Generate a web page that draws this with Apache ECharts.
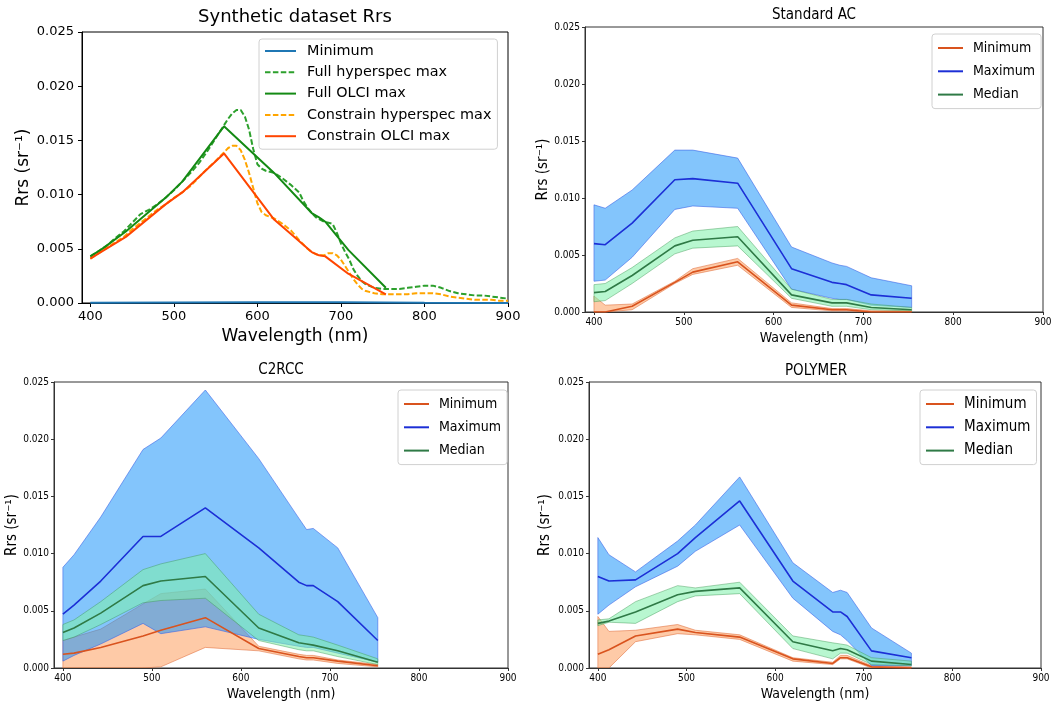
<!DOCTYPE html>
<html><head><meta charset="utf-8">
<script src="https://cdn.jsdelivr.net/npm/echarts@6.0.0/dist/echarts.min.js"></script>
<style>html,body{margin:0;padding:0;background:#fff}#c{width:1056px;height:709px}</style>
</head><body><div id="c"></div>
<script>
// ---------- data ----------
const olciWl = [400, 412.5, 442.5, 490, 510, 560, 620, 665, 673.75, 681.25, 708.75, 753.75];
const xTicks = [400, 500, 600, 700, 800, 900];
const yTicks = [0, 0.005, 0.010, 0.015, 0.020, 0.025];

// Synthetic dataset
const synMinWl = [400, 500, 600, 700, 800, 900];
const synMin = [0.00002, 0.00004, 0.00006, 0.00006, 0.00002, 0.00001];
const synFullOlci = [0.0043, 0.0049, 0.0066, 0.0097, 0.0112, 0.0163, 0.0120, 0.0083, 0.0079, 0.0075, 0.0049, 0.0014];
const synConOlci = [0.0041, 0.0047, 0.0061, 0.0091, 0.0102, 0.0138, 0.0077, 0.0047, 0.0044, 0.0043, 0.0027, 0.0008];
const hyperWl = [400, 410, 420, 430, 440, 450, 460, 470, 480, 490, 500, 510, 520, 530, 540, 550, 560, 565, 570, 575, 580, 585, 590, 595, 600, 605, 610, 620, 630, 640, 650, 655, 660, 665, 670, 675, 680, 685, 690, 695, 700, 705, 710, 715, 720, 725, 730, 740, 750, 760, 770, 780, 790, 800, 810, 820, 830, 840, 850, 860, 870, 880, 890, 900];
const synFullHyper = [0.0043, 0.0048, 0.0053, 0.0060, 0.0066, 0.0074, 0.0082, 0.0086, 0.0091, 0.0097, 0.0104, 0.0112, 0.0120, 0.0129, 0.0140, 0.0152, 0.0164, 0.0170, 0.0175, 0.0178, 0.0178, 0.0172, 0.0160, 0.0142, 0.0128, 0.0124, 0.0122, 0.0120, 0.0115, 0.0109, 0.0102, 0.0094, 0.0088, 0.0083, 0.0079, 0.0077, 0.0075, 0.0074, 0.0073, 0.0065, 0.0055, 0.0047, 0.0040, 0.0031, 0.0025, 0.0020, 0.0017, 0.0014, 0.0013, 0.0013, 0.0013, 0.0014, 0.0015, 0.0016, 0.0016, 0.0014, 0.0011, 0.0009, 0.0008, 0.0007, 0.0007, 0.0006, 0.0005, 0.0004];
const synConHyper = [0.0041, 0.0046, 0.0051, 0.0056, 0.0061, 0.0068, 0.0074, 0.0080, 0.0086, 0.0091, 0.0097, 0.0102, 0.0108, 0.0116, 0.0124, 0.0131, 0.0139, 0.0143, 0.0145, 0.0145, 0.0141, 0.0132, 0.0120, 0.0106, 0.0092, 0.0084, 0.0081, 0.0078, 0.0073, 0.0067, 0.0058, 0.0054, 0.0050, 0.0047, 0.0045, 0.0044, 0.0044, 0.0046, 0.0046, 0.0044, 0.0040, 0.0034, 0.0028, 0.0022, 0.0017, 0.0013, 0.0011, 0.0009, 0.0008, 0.0008, 0.0008, 0.0008, 0.0009, 0.0009, 0.0009, 0.0008, 0.0006, 0.0005, 0.0004, 0.0003, 0.0003, 0.0003, 0.0002, 0.0002];

// Standard AC
const sacMax   = [0.0060, 0.0059, 0.0078, 0.0116, 0.0117, 0.0113, 0.0038, 0.0026, 0.0025, 0.0024, 0.0015, 0.0012];
const sacMaxHi = [0.0094, 0.0091, 0.0107, 0.0142, 0.0142, 0.0135, 0.0057, 0.0043, 0.0041, 0.0040, 0.0030, 0.0023];
const sacMaxLo = [0.0027, 0.0028, 0.0048, 0.0090, 0.0093, 0.0091, 0.0020, 0.0012, 0.0011, 0.0011, 0.0006, 0.0004];
const sacMed   = [0.0017, 0.0018, 0.0032, 0.0058, 0.0063, 0.0066, 0.0015, 0.0008, 0.0008, 0.0008, 0.0004, 0.0002];
const sacMedHi = [0.0024, 0.0025, 0.0039, 0.0065, 0.0071, 0.0075, 0.0020, 0.0011, 0.0011, 0.0011, 0.0007, 0.0004];
const sacMedLo = [0.0009, 0.0010, 0.0025, 0.0051, 0.0056, 0.0058, 0.0012, 0.0005, 0.0005, 0.0005, 0.0002, 0.0001];
const sacMin   = [0.0000, 0.0000, 0.0005, 0.0026, 0.0035, 0.0044, 0.0006, 0.0002, 0.0002, 0.0002, 0.0000, 0.0000];
const sacMinHi = [0.0014, 0.0006, 0.0007, 0.0027, 0.0038, 0.0047, 0.0008, 0.0003, 0.0003, 0.0003, 0.0001, 0.0001];
const sacMinLo = [0.0000, 0.0000, 0.0002, 0.0025, 0.0033, 0.0041, 0.0004, 0.0001, 0.0001, 0.0001, 0.0000, 0.0000];

// C2RCC
const c2Max   = [0.0047, 0.0055, 0.0076, 0.0115, 0.0115, 0.0140, 0.0105, 0.0075, 0.0072, 0.0072, 0.0058, 0.0024];
const c2MaxHi = [0.0088, 0.0099, 0.0132, 0.0191, 0.0201, 0.0243, 0.0183, 0.0131, 0.0121, 0.0122, 0.0105, 0.0044];
const c2MaxLo = [0.0006, 0.0011, 0.0021, 0.0039, 0.0030, 0.0036, 0.0025, 0.0019, 0.0018, 0.0018, 0.0013, 0.0005];
const c2Med   = [0.0031, 0.0035, 0.0048, 0.0072, 0.0076, 0.0080, 0.0035, 0.0022, 0.0021, 0.0020, 0.0015, 0.0005];
const c2MedHi = [0.0038, 0.0042, 0.0058, 0.0086, 0.0091, 0.0100, 0.0047, 0.0029, 0.0028, 0.0027, 0.0020, 0.0008];
const c2MedLo = [0.0024, 0.0027, 0.0038, 0.0057, 0.0059, 0.0061, 0.0024, 0.0016, 0.0015, 0.0015, 0.0010, 0.0003];
const c2Min   = [0.0012, 0.0013, 0.0018, 0.0028, 0.0033, 0.0044, 0.0017, 0.0010, 0.0009, 0.0009, 0.0006, 0.0002];
const c2MinHi = [0.0024, 0.0027, 0.0034, 0.0056, 0.0065, 0.0069, 0.0019, 0.0012, 0.0011, 0.0011, 0.0007, 0.0003];
const c2MinLo = [0.0000, 0.0000, 0.0000, 0.0000, 0.0001, 0.0018, 0.0015, 0.0008, 0.0007, 0.0007, 0.0004, 0.0001];

// POLYMER
const poMax   = [0.0080, 0.0076, 0.0077, 0.0100, 0.0114, 0.0146, 0.0076, 0.0049, 0.0049, 0.0045, 0.0015, 0.0009];
const poMaxHi = [0.0114, 0.0099, 0.0084, 0.0111, 0.0125, 0.0167, 0.0092, 0.0066, 0.0068, 0.0066, 0.0035, 0.0013];
const poMaxLo = [0.0047, 0.0055, 0.0071, 0.0089, 0.0102, 0.0125, 0.0061, 0.0032, 0.0029, 0.0024, 0.0002, 0.0002];
const poMed   = [0.0039, 0.0041, 0.0049, 0.0064, 0.0067, 0.0070, 0.0023, 0.0015, 0.0017, 0.0016, 0.0006, 0.0003];
const poMedHi = [0.0042, 0.0043, 0.0058, 0.0072, 0.0070, 0.0075, 0.0028, 0.0022, 0.0021, 0.0020, 0.0009, 0.0006];
const poMedLo = [0.0037, 0.0040, 0.0039, 0.0058, 0.0063, 0.0065, 0.0017, 0.0008, 0.0013, 0.0013, 0.0003, 0.0002];
const poMin   = [0.0012, 0.0016, 0.0028, 0.0034, 0.0031, 0.0027, 0.0008, 0.0004, 0.0009, 0.0009, 0.0001, 0.0000];
const poMinHi = [0.0045, 0.0032, 0.0033, 0.0038, 0.0033, 0.0029, 0.0009, 0.0005, 0.0011, 0.0011, 0.0002, 0.0001];
const poMinLo = [0.0000, 0.0000, 0.0023, 0.0030, 0.0029, 0.0025, 0.0006, 0.0003, 0.0008, 0.0008, 0.0000, 0.0000];

// ---------- chart ----------
const FM = "'DejaVu Sans', sans-serif";
const FC = "'DejaVu Sans Condensed', 'Liberation Sans Narrow', 'DejaVu Sans', sans-serif";
const zip = (xs, ys) => xs.map((x, i) => [x, ys[i]]);

const grids = [
  {left: 82, top: 32, width: 426, height: 271},
  {left: 585, top: 27, width: 458, height: 285},
  {left: 54, top: 382, width: 454, height: 286},
  {left: 589, top: 382, width: 452, height: 286}
];
const axisCol = ['#000', '#333', '#333', '#333'];

const xAxes = grids.map((g, i) => ({
  type: 'value', gridIndex: i, min: 390, max: 900,
  name: 'Wavelength (nm)', nameLocation: 'middle',
  nameGap: i === 0 ? 25 : 19,
  nameTextStyle: {fontFamily: i === 0 ? FM : FC, fontSize: i === 0 ? 17 : 14, color: '#000'},
  axisLine: {show: true, onZero: false, lineStyle: {color: axisCol[i], width: 1}},
  axisTick: {show: true, customValues: xTicks, length: i === 0 ? 4 : 3, lineStyle: {color: axisCol[i]}},
  axisLabel: {customValues: xTicks, margin: i === 0 ? 7 : 5, fontFamily: i === 0 ? FM : FC, fontSize: i === 0 ? 13 : 10, color: '#000'},
  splitLine: {show: false}
}));
const yAxes = grids.map((g, i) => ({
  type: 'value', gridIndex: i, min: 0, max: 0.025, interval: 0.005,
  name: 'Rrs (sr⁻¹)', nameLocation: 'middle',
  nameGap: [50, 33, 33, 36][i],
  nameTextStyle: {fontFamily: i === 0 ? FM : FC, fontSize: i === 0 ? 17 : 15, color: '#000'},
  axisLine: {show: true, lineStyle: {color: axisCol[i], width: 1}},
  axisTick: {show: true, length: i === 0 ? 4 : 3, lineStyle: {color: axisCol[i]}},
  axisLabel: {margin: i === 0 ? 8 : 5, formatter: v => v.toFixed(3), fontFamily: i === 0 ? FM : FC, fontSize: i === 0 ? 13 : 10, color: '#000'},
  splitLine: {show: false}
}));

function line(name, gi, xs, ys, color, width, dashed, z) {
  return {
    type: 'line', name, xAxisIndex: gi, yAxisIndex: gi, data: zip(xs, ys),
    symbol: 'none', showSymbol: false, animation: false, z: z || 5,
    lineStyle: {color, width, type: dashed ? [5.5, 2.4] : 'solid'},
    itemStyle: {color}
  };
}
function band(name, gi, lo, hi, fill, edge, z) {
  return {
    type: 'custom', name, xAxisIndex: gi, yAxisIndex: gi, z, silent: true, animation: false,
    clip: true, data: [[400, 0]],
    renderItem: (params, api) => {
      const pts = [];
      for (let i = 0; i < olciWl.length; i++) pts.push(api.coord([olciWl[i], hi[i]]));
      for (let i = olciWl.length - 1; i >= 0; i--) pts.push(api.coord([olciWl[i], lo[i]]));
      return {type: 'polygon', shape: {points: pts}, style: {fill, stroke: edge, lineWidth: 0.8}};
    }
  };
}

const C_MIN = '#d9531e', C_MAX = '#1c2fd6', C_MED = '#2f7a46';
const F_MIN = 'rgba(253,150,80,0.5)', E_MIN = 'rgba(225,110,60,0.7)';
const F_MAX = 'rgba(30,150,250,0.55)', E_MAX = 'rgba(60,100,230,0.75)';
const F_MED = 'rgba(126,240,170,0.55)', E_MED = 'rgba(60,150,80,0.55)';

function panel(gi, tag, mn, mnLo, mnHi, mx, mxLo, mxHi, md, mdLo, mdHi) {
  return [
    band(tag + '|bmin', gi, mnLo, mnHi, F_MIN, E_MIN, 1),
    band(tag + '|bmax', gi, mxLo, mxHi, F_MAX, E_MAX, 2),
    band(tag + '|bmed', gi, mdLo, mdHi, F_MED, E_MED, 3),
    line(tag + '|Minimum', gi, olciWl, mn, C_MIN, 1.6, false, 6),
    line(tag + '|Maximum', gi, olciWl, mx, C_MAX, 1.6, false, 6),
    line(tag + '|Median', gi, olciWl, md, C_MED, 1.6, false, 6)
  ];
}

const series = [
  line('Minimum', 0, synMinWl, synMin, '#1f77b4', 2, false, 5),
  line('Full hyperspec max', 0, hyperWl, synFullHyper, '#2ca02c', 2, true, 5),
  line('Full OLCI max', 0, olciWl, synFullOlci, '#148a14', 2, false, 6),
  line('Constrain hyperspec max', 0, hyperWl, synConHyper, '#ffa500', 2, true, 5),
  line('Constrain OLCI max', 0, olciWl, synConOlci, '#ff4500', 2, false, 6),
  ...panel(1, 'SAC', sacMin, sacMinLo, sacMinHi, sacMax, sacMaxLo, sacMaxHi, sacMed, sacMedLo, sacMedHi),
  ...panel(2, 'C2', c2Min, c2MinLo, c2MinHi, c2Max, c2MaxLo, c2MaxHi, c2Med, c2MedLo, c2MedHi),
  ...panel(3, 'PO', poMin, poMinLo, poMinHi, poMax, poMaxLo, poMaxHi, poMed, poMedLo, poMedHi)
];

function legend(tag, left, top, fs, iw, gap) {
  return {
    orient: 'vertical', left, top,
    data: ['Minimum', 'Maximum', 'Median'].map(n => tag + '|' + n),
    formatter: n => n.split('|')[1],
    itemWidth: iw, itemHeight: 14, itemGap: gap,
    itemStyle: {opacity: 0, borderWidth: 0},
    padding: [6, 6, 6, 5],
    borderColor: '#d0d0d0', borderWidth: 1, borderRadius: 3, backgroundColor: 'rgba(255,255,255,0.8)',
    textStyle: {fontFamily: FC, fontSize: fs, color: '#000', lineHeight: 16, padding: [0, 0, 0, 5]}
  };
}

const option = {
  animation: false,
  grid: grids.map((g, i) => Object.assign({show: true, borderColor: axisCol[i], borderWidth: 1, backgroundColor: 'transparent'}, g)),
  xAxis: xAxes,
  yAxis: yAxes,
  legend: [
    {
      orient: 'vertical', left: 259, top: 39,
      data: ['Minimum', 'Full hyperspec max', 'Full OLCI max', 'Constrain hyperspec max', 'Constrain OLCI max'],
      itemWidth: 31, itemHeight: 14, itemGap: 5.3,
      itemStyle: {opacity: 0, borderWidth: 0},
      padding: [4, 6, 5, 5],
      borderColor: '#d0d0d0', borderWidth: 1, borderRadius: 3, backgroundColor: 'rgba(255,255,255,0.8)',
      textStyle: {fontFamily: FM, fontSize: 14.4, color: '#000', lineHeight: 16, padding: [0, 0, 0, 6]}
    },
    legend('SAC', 932, 34, 14, 25, 7.3),
    legend('C2', 398, 390, 14, 25, 7.3),
    legend('PO', 920, 390, 15, 28, 7.3)
  ],
  graphic: [
    {type: 'text', x: 295, y: 17, style: {text: 'Synthetic dataset Rrs', font: "18px " + FM, fill: '#000', textAlign: 'center', textVerticalAlign: 'middle'}},
    {type: 'text', x: 814, y: 15, style: {text: 'Standard AC', font: "15px " + FC, fill: '#000', textAlign: 'center', textVerticalAlign: 'middle'}},
    {type: 'text', x: 281, y: 370, style: {text: 'C2RCC', font: "15px " + FC, fill: '#000', textAlign: 'center', textVerticalAlign: 'middle'}},
    {type: 'text', x: 816, y: 371, style: {text: 'POLYMER', font: "15px " + FC, fill: '#000', textAlign: 'center', textVerticalAlign: 'middle'}}
  ],
  series
};
const chart = echarts.init(document.getElementById('c'), null, {renderer: 'canvas'});
chart.setOption(option);
</script></body></html>
